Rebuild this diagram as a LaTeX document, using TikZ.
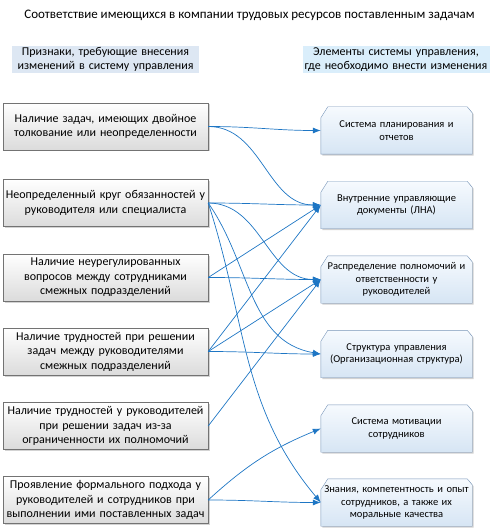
\documentclass[tikz,border=0pt]{standalone}
\usepackage{fontspec}
\setmainfont{Carlito}
\usetikzlibrary{arrows.meta,shadows,backgrounds,calc}
\definecolor{linkblue}{RGB}{30,118,196}
\definecolor{headleft}{RGB}{221,231,243}
\definecolor{headright}{RGB}{218,238,251}
\definecolor{rtop}{RGB}{246,250,254}
\definecolor{rbottom}{RGB}{214,229,244}
\definecolor{rframe}{RGB}{120,150,185}

\begin{document}
\begin{tikzpicture}[x=1pt,y=1pt]
  \tikzstyle{lbox}=[draw=black!55, top color=white, bottom color=black!14,
    minimum width=205, minimum height=47, text width=204, align=center, inner sep=0pt,
    font=\fontsize{12}{14.5}\selectfont,
    drop shadow={shadow xshift=1.5pt, shadow yshift=-1.5pt, opacity=0.35}]
  \tikzstyle{rbox}=[minimum width=151, minimum height=47, text width=151, align=center,
    inner sep=0pt, font=\fontsize{10.5}{12.5}\selectfont]
  \tikzstyle{head}=[minimum width=187, minimum height=27, text width=187, align=center,
    inner sep=0pt, font=\fontsize{12}{13.5}\selectfont]
  \tikzstyle{link}=[draw=linkblue, line width=0.7pt, -{Latex[length=8pt,width=6pt]}]
  \useasboundingbox (0,0) rectangle (493,-529);

  % title and column heads
  \node[font=\fontsize{13}{15}\selectfont] (title) at (249.5,-15) {Соответствие имеющихся в компании трудовых ресурсов поставленным задачам};
  \node[head, fill=headleft] (hl) at (105.5,-59.5) {Признаки, требующие внесения\\изменений в систему управления};
  \node[head, fill=headright] (hr) at (396,-59.5) {Элементы системы управления,\\где необходимо внести изменения};

  % signs
  \node[lbox] (l1) at (105.5,-126.5) {Наличие задач, имеющих двойное\\толкование или неопределенности};
  \node[lbox] (l2) at (105.5,-203) {Неопределенный круг обязанностей у\\руководителя или специалиста};
  \node[lbox] (l3) at (105.5,-277.5) {Наличие неурегулированных\\вопросов между сотрудниками\\смежных подразделений};
  \node[lbox] (l4) at (105.5,-351.5) {Наличие трудностей при решении\\задач между руководителями\\смежных подразделений};
  \node[lbox] (l5) at (105.5,-426) {Наличие трудностей у руководителей\\при решении задач из-за\\ограниченности их полномочий};
  \node[lbox] (l6) at (105.5,-500) {Проявление формального подхода у\\руководителей и сотрудников при\\выполнении ими поставленных задач};

  % elements
  \node[rbox] (r1) at (396.5,-130.5) {Система планирования и\\отчетов};
  \node[rbox] (r2) at (396.5,-205) {Внутренние управляющие\\документы (ЛНА)};
  \node[rbox] (r3) at (396.5,-279.5) {Распределение полномочий и\\ответственности у\\руководителей};
  \node[rbox] (r4) at (396.5,-354) {Структура управления\\(Организационная структура)};
  \node[rbox] (r5) at (396.5,-428.5) {Система мотивации\\сотрудников};
  \node[rbox] (r6) at (396.5,-502.5) {Знания, компетентность и опыт\\сотрудников, а также их\\моральные качества};

  \begin{scope}[on background layer]
    \foreach \n in {r1,r2,r3,r4,r5,r6}{
      \fill[black, opacity=0.18] ($(\n.south west)+(1.5,-1.5)$) -- ($(\n.north west)+(1.5,-12.5)$)
        -- ($(\n.north west)+(8.5,-1.5)$) -- ($(\n.north east)+(-3.5,-1.5)$)
        -- ($(\n.north east)+(1.5,-7.5)$) -- ($(\n.south east)+(1.5,-1.5)$) -- cycle;
      \draw[rframe, top color=rtop, bottom color=rbottom] (\n.south west) -- ($(\n.north west)+(0,-11)$)
        -- ($(\n.north west)+(7,0)$) -- ($(\n.north east)+(-5,0)$)
        -- ($(\n.north east)+(0,-6)$) -- (\n.south east) -- cycle;
    }
  \end{scope}

  % links
  \draw[link] (l1.east) to[out=0,in=180] (r1.west);
  \draw[link] (l1.east) to[out=0,in=180] (r2.west);
  \draw[link] (l2.east) to[out=0,in=180] (r2.west);
  \draw[link] (l2.east) to[out=0,in=180] (r3.west);
  \draw[link] (l2.east) to[out=-55,in=170] (r4.west);
  \draw[link] (l2.east) to[out=-72,in=130] (r6.west);
  \draw[link] (l3.east) -- (r2.west);
  \draw[link] (l3.east) to[out=0,in=180] (r3.west);
  \draw[link] (l4.east) -- (r2.west);
  \draw[link] (l4.east) -- (r3.west);
  \draw[link] (l4.east) to[out=0,in=180] (r4.west);
  \draw[link] (l5.east) -- (r3.west);
  \draw[link] (l6.east) to[bend left=10] (r5.west);
  \draw[link] (l6.east) to[out=0,in=180] (r6.west);
\end{tikzpicture}
\end{document}
